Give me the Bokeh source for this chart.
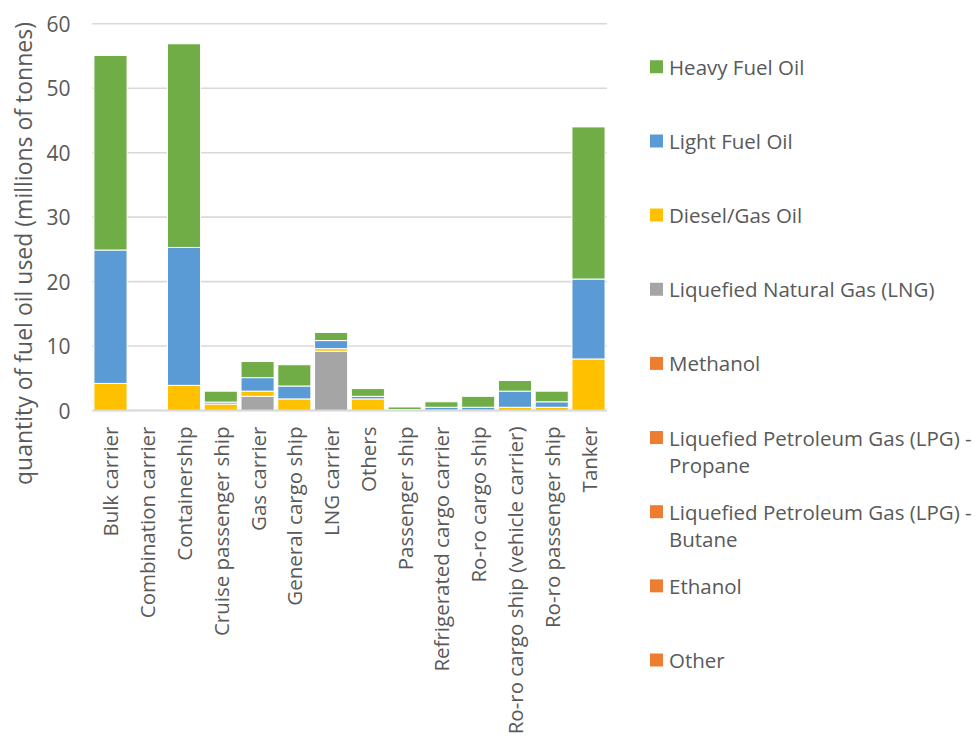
import math
from bokeh.plotting import figure
from bokeh.models import ColumnDataSource, Range1d
from bokeh.core.properties import value
from bokeh.embed import file_html
from bokeh.resources import INLINE

# ---------------- data ----------------
categories = ["Bulk carrier", "Combination carrier", "Containership",
              "Cruise passenger ship", "Gas carrier", "General cargo ship",
              "LNG carrier", "Others", "Passenger ship",
              "Refrigerated cargo carrier", "Ro-ro cargo ship",
              "Ro-ro cargo ship (vehicle carrier)", "Ro-ro passenger ship", "Tanker"]

heavy_fuel_oil = [30.2, 0.0, 31.6, 1.7, 2.5, 3.3, 1.25, 1.2, 0.4, 0.85, 1.7, 1.65, 1.65, 23.6]
light_fuel_oil = [20.7, 0.0, 21.4, 0.3, 2.1, 2.0, 1.25, 0.4, 0.1, 0.45, 0.45, 2.5, 0.85, 12.4]
diesel_gas_oil = [4.2, 0.0, 3.9, 1.0, 0.8, 1.8, 0.4, 1.8, 0.05, 0.05, 0.05, 0.5, 0.5, 8.0]
lng = [0.0, 0.0, 0.0, 0.0, 2.2, 0.0, 9.2, 0.0, 0.0, 0.0, 0.0, 0.0, 0.0, 0.0]
methanol = [0.0] * 14
lpg_propane = [0.0] * 14
lpg_butane = [0.0] * 14
ethanol = [0.0] * 14
other = [0.0] * 14

series_names = ["Heavy Fuel Oil", "Light Fuel Oil", "Diesel/Gas Oil",
                "Liquefied Natural Gas (LNG)", "Methanol",
                "Liquefied Petroleum Gas (LPG) - Propane",
                "Liquefied Petroleum Gas (LPG) - Butane", "Ethanol", "Other"]
series_values = [heavy_fuel_oil, light_fuel_oil, diesel_gas_oil, lng, methanol,
                 lpg_propane, lpg_butane, ethanol, other]
series_colors = ["#70AD47", "#5B9BD5", "#FFC000", "#A5A5A5", "#ED7D31",
                 "#ED7D31", "#ED7D31", "#ED7D31", "#ED7D31"]

y_ticks = [0, 10, 20, 30, 40, 50, 60]
y_title = "quantity of fuel oil used (millions of tonnes)"

FONT = value("Open Sans")
TXT = "#595959"
GRID = "#d9d9d9"

# ---------------- canvas geometry (pixels) ----------------
W, H = 978, 740
PLOT_LEFT, PLOT_RIGHT = 91.6, 606.4     # plot area, px from left
PLOT_BOTTOM, PLOT_TOP = 410.0, 23.3     # px from top
Y_MAX = 60.0
NCAT = len(categories)
PX_PER_CAT = (PLOT_RIGHT - PLOT_LEFT) / NCAT
PX_PER_UNIT = (PLOT_BOTTOM - PLOT_TOP) / Y_MAX


def px2x(px):
    return (px - PLOT_LEFT) / PX_PER_CAT


def px2y(py):
    return (PLOT_BOTTOM - py) / PX_PER_UNIT


p = figure(width=W, height=H,
           x_range=Range1d(px2x(0), px2x(W)), y_range=Range1d(px2y(H), px2y(0)),
           x_axis_type=None, y_axis_type=None, output_backend="svg",
           toolbar_location=None, min_border=0)
p.outline_line_color = None
p.grid.visible = False
p.background_fill_color = "white"
p.border_fill_color = "white"

# gridlines (value axis)
p.segment(x0=[0] * len(y_ticks), x1=[NCAT] * len(y_ticks), y0=y_ticks, y1=y_ticks,
          line_color=GRID, line_width=1.6)

# stacked bars: bottom = last legend entry, top = first legend entry
keys = ["s%d" % i for i in range(len(series_names))]
data = {"x": [i + 0.5 for i in range(NCAT)], "cat": categories}
for k, v in zip(keys, series_values):
    data[k] = v
src = ColumnDataSource(data)
p.vbar_stack(list(reversed(keys)), x="x", width=0.9, source=src,
             color=list(reversed(series_colors)), line_color="white", line_width=1)

# baseline
p.segment(x0=[0], x1=[NCAT], y0=[0], y1=[0], line_color=GRID, line_width=2)

# value tick labels
p.text(x=[px2x(70)] * len(y_ticks), y=y_ticks, text=[str(t) for t in y_ticks],
       text_align="right", text_baseline="middle", text_font=FONT,
       text_font_size="21px", text_color=TXT)

# category labels, rotated
p.text(x="x", y=px2y(426), text="cat", source=src, angle=math.pi / 2,
       text_align="right", text_baseline="middle", text_font=FONT,
       text_font_size="20.5px", text_color=TXT)

# value-axis title
p.text(x=[px2x(22)], y=[px2y(253)], text=[y_title], angle=math.pi / 2,
       text_align="center", text_baseline="middle", text_font=FONT,
       text_font_size="23px", text_color=TXT)

# ---------------- legend ----------------
LEG_TOP, LEG_STEP, LINE_GAP = 66.3, 74.15, 27.0
sq_x, sq_y, tx, ty, tt = [], [], [], [], []
for i, name in enumerate(series_names):
    yc = LEG_TOP + i * LEG_STEP
    sq_x.append(px2x(656))
    sq_y.append(px2y(yc))
    if " - " in name:
        a, b = name.split(" - ", 1)
        lines = [a + " -", b]
    else:
        lines = [name]
    for j, ln in enumerate(lines):
        tx.append(px2x(668.5))
        ty.append(px2y(yc + j * LINE_GAP))
        tt.append(ln)

p.scatter(x=sq_x, y=sq_y, marker="square", size=13, color=series_colors,
          line_color=None)
p.text(x=tx, y=ty, text=tt, text_align="left", text_baseline="middle",
       text_font=FONT, text_font_size="20.5px", text_color=TXT)

open("out.html", "w").write(file_html(p, INLINE))
